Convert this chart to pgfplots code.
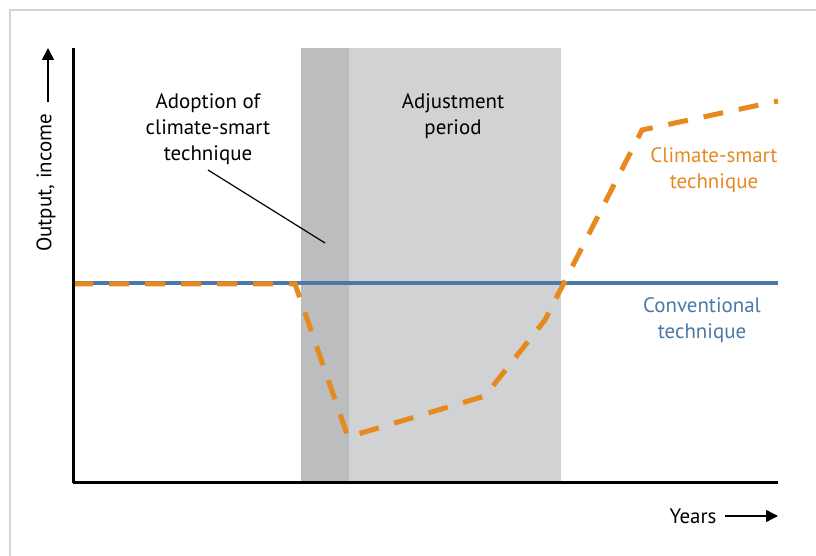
\documentclass[border=0pt]{standalone}
\usepackage{pgfplots}
\pgfplotsset{compat=1.18}
\usepackage{fontspec}
\setmainfont{PT Sans}
\usetikzlibrary{arrows.meta}
\definecolor{csblue}{RGB}{74,120,168}
\definecolor{csorange}{RGB}{230,138,32}
\definecolor{adopt}{RGB}{188,189,191}
\definecolor{adjust}{RGB}{209,210,212}
\definecolor{framegray}{RGB}{212,212,212}

\begin{document}
\begin{tikzpicture}[x=1bp,y=1bp]
\path[use as bounding box] (0,0) rectangle (816,556);
\draw[framegray, line width=2bp] (10,0) -- (10,546) -- (816,546);

\begin{axis}[
    at={(73,73)}, anchor=south west,
    x=1bp, y=1bp,
    xmin=0, xmax=705, ymin=0, ymax=435,
    axis lines*=left,
    axis line style={line width=3bp, black},
    xtick=\empty, ytick=\empty,
    axis on top,
    clip=false,
]
% adjustment and adoption bands
\addplot[draw=none, fill=adjust] coordinates {(276,435) (488,435)} \closedcycle;
\addplot[draw=none, fill=adopt] coordinates {(228,435) (276,435)} \closedcycle;
% conventional technique
\addplot[csblue, line width=4.5bp] coordinates {(0,200) (705,200)};
% climate-smart technique
\addplot[csorange, line width=5bp, dash pattern=on 20bp off 16bp] coordinates {
    (0,199) (222,199) (275,46) (412,87) (472,163) (569,353) (705,382)
};
\end{axis}

\tikzset{lbl/.style={font=\fontsize{21}{26}\selectfont, align=center}}
\node[lbl] at (208,427) {Adoption of\\climate-smart\\technique};
\node[lbl] at (453,440) {Adjustment\\period};
\node[lbl, text=csorange] at (714,386) {Climate-smart\\technique};
\node[lbl, text=csblue] at (702,236) {Conventional\\technique};
\draw[line width=1.2bp] (208,386) -- (325,313);

\node[lbl, rotate=90] at (46,373) {Output, income};
\draw[line width=1.5bp, -{Triangle[length=12bp,width=12bp]}] (48,454) -- (48,508);
\node[lbl] at (693,40) {Years};
\draw[line width=1.5bp, -{Triangle[length=12bp,width=12bp]}] (725,40) -- (778,40);
\end{tikzpicture}
\end{document}
